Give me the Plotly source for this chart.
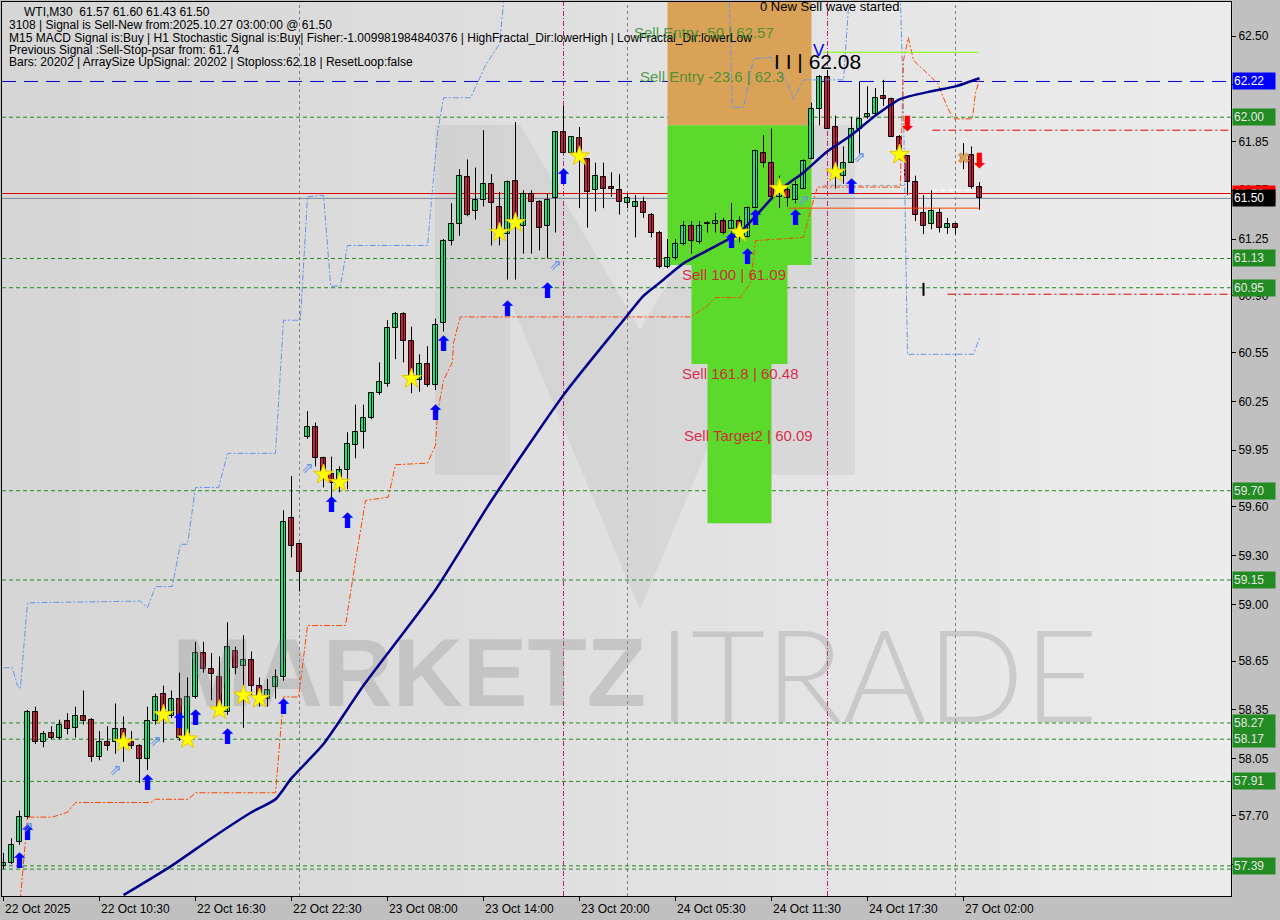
import plotly.graph_objects as go

# ---------------- data ----------------
opens = [57.39,57.41,57.54,57.69,58.34,58.15,58.21,58.18,58.28,58.24,58.31,58.29,58.06,58.15,58.15,58.23,58.15,58.13,58.05,58.28,
         58.45,58.31,58.42,58.18,58.43,58.70,58.60,58.55,58.34,58.71,58.62,58.66,58.50,58.42,58.49,58.55,59.53,59.37,60.03,60.09,
         59.90,59.80,59.75,59.83,59.98,60.06,60.15,60.30,60.36,60.70,60.79,60.62,60.38,60.48,60.35,60.73,61.24,61.34,61.63,61.42,
         61.49,61.59,61.45,61.28,61.61,61.33,61.53,61.48,61.33,61.50,61.91,61.78,61.87,61.74,61.55,61.63,61.57,61.55,61.47,61.45,
         61.48,61.40,61.29,61.08,61.13,61.22,61.33,61.23,61.34,61.34,61.36,61.31,61.36,61.26,61.44,61.78,61.72,61.51,61.55,61.49,
         61.56,61.74,62.05,62.25,61.94,61.64,61.72,61.93,62.00,62.02,62.13,62.11,61.88,61.76,61.60,61.41,61.34,61.41,61.32,61.34,
         61.74,61.77,61.57]
highs = [57.47,57.56,57.73,58.35,58.37,58.22,58.25,58.29,58.33,58.37,58.47,58.30,58.22,58.25,58.39,58.31,58.22,58.14,58.37,58.45,
         58.50,58.47,58.58,58.55,58.77,58.77,58.70,58.68,58.89,58.74,58.81,58.71,58.55,58.54,58.60,59.58,59.79,59.38,60.19,60.12,
         59.91,59.91,59.85,60.06,60.23,60.23,60.30,60.49,60.75,60.80,60.80,60.71,60.54,60.59,60.76,61.25,61.47,61.68,61.74,61.69,
         61.92,61.65,61.54,61.61,61.97,61.55,61.55,61.49,61.53,61.91,62.07,61.88,61.94,61.75,61.72,61.72,61.66,61.65,61.53,61.52,
         61.51,61.41,61.30,61.25,61.25,61.36,61.36,61.36,61.36,61.41,61.38,61.47,61.39,61.45,61.80,61.89,61.93,61.64,61.58,61.61,
         61.74,62.09,62.26,62.29,62.01,61.82,62.00,62.22,62.19,62.18,62.23,62.12,61.89,61.76,61.64,61.52,61.55,61.44,61.38,61.35,
         61.84,61.82,61.60]
lows = [57.37,57.40,57.52,57.68,58.14,58.12,58.17,58.17,58.20,58.18,58.26,58.03,58.04,58.10,58.08,58.03,58.11,57.90,57.98,58.26,
        58.15,58.30,58.16,58.15,58.42,58.58,58.41,58.33,58.32,58.57,58.24,58.44,58.37,58.37,58.42,58.53,59.29,59.08,60.02,59.85,
        59.72,59.66,59.69,59.71,59.90,59.96,60.14,60.29,60.34,60.51,60.49,60.30,60.31,60.34,60.32,60.68,61.21,61.27,61.39,61.37,
        61.45,61.21,61.21,61.00,61.00,61.16,61.16,61.18,61.13,61.29,61.78,61.77,61.44,61.32,61.42,61.44,61.51,61.40,61.44,61.26,
        61.38,61.26,61.07,61.07,61.12,61.21,61.16,61.22,61.29,61.29,61.28,61.29,61.23,61.26,61.44,61.69,61.50,61.44,61.45,61.47,
        61.56,61.74,61.95,61.93,61.56,61.59,61.72,61.77,61.99,62.01,62.07,61.88,61.74,61.52,61.36,61.28,61.31,61.29,61.28,61.28,
        61.68,61.56,61.43]
closes = [57.41,57.52,57.69,58.34,58.15,58.20,58.18,58.26,58.23,58.31,58.28,58.06,58.15,58.13,58.23,58.17,58.13,58.05,58.28,58.43,
          58.32,58.42,58.18,58.43,58.70,58.60,58.57,58.36,58.74,58.61,58.66,58.50,58.43,58.47,58.55,59.51,59.36,59.20,60.09,59.90,
          59.80,59.75,59.83,59.99,60.06,60.15,60.30,60.37,60.70,60.79,60.62,60.39,60.48,60.35,60.72,61.24,61.34,61.64,61.40,61.49,
          61.59,61.47,61.29,61.60,61.33,61.53,61.48,61.32,61.49,61.91,61.78,61.88,61.74,61.54,61.64,61.56,61.56,61.48,61.50,61.48,
          61.41,61.29,61.08,61.13,61.22,61.33,61.24,61.33,61.34,61.36,61.29,61.36,61.32,61.44,61.79,61.72,61.51,61.54,61.50,61.58,
          61.73,62.05,62.25,61.93,61.64,61.72,61.93,61.99,62.02,62.12,62.11,61.88,61.80,61.60,61.40,61.33,61.42,61.32,61.34,61.32,
          61.76,61.57,61.50]

x_tick_idx = [0, 12, 24, 36, 48, 60, 72, 84, 96, 108, 120]
x_tick_labels = ["22 Oct 2025", "22 Oct 10:30", "22 Oct 16:30", "22 Oct 22:30", "23 Oct 08:00",
                 "23 Oct 14:00", "23 Oct 20:00", "24 Oct 05:30", "24 Oct 11:30", "24 Oct 17:30", "27 Oct 02:00"]
y_tick_vals = [62.50, 62.20, 61.85, 61.55, 61.25, 60.90, 60.55, 60.25, 59.95, 59.60, 59.30, 59.00,
               58.65, 58.35, 58.05, 57.70, 57.40]

# moving average (readings)
ma_idx = [15, 21, 26, 31, 34, 36, 40, 45, 54, 61, 70, 77, 80, 82, 85, 88, 92, 97, 100, 103, 106, 109, 112, 116, 119, 122]
ma_val = [57.21, 57.39, 57.56, 57.72, 57.80, 57.93, 58.14, 58.50, 59.09, 59.64, 60.29, 60.72, 60.90, 60.98, 61.10,
          61.18, 61.29, 61.55, 61.66, 61.79, 61.89, 62.01, 62.11, 62.16, 62.19, 62.24]

# upper band (light blue dash-dot)
up_band_idx = [0, 1.1, 1.75, 2.1, 3, 17.1, 18, 19, 21.1, 22.1, 23, 24, 26.9, 28, 34, 34.6, 35, 37.1, 38, 40, 40.9, 42.1,
               43, 53, 54.25, 55, 58.4, 60.25, 62, 63, 90.6, 91.1, 92.5, 93.75, 95.9, 98, 98.75, 100, 105, 106, 112,
               112.5, 113, 121.25, 122]
up_band_val = [58.61, 58.61, 58.50, 58.48, 59.01, 59.02, 58.98, 59.11, 59.11, 59.37, 59.37, 59.72, 59.72, 59.93, 59.93,
               60.38, 60.75, 60.75, 61.51, 61.52, 60.96, 60.96, 61.21, 61.21, 61.90, 62.12, 62.12, 62.32, 62.45, 62.95,
               62.95, 62.06, 62.06, 62.36, 62.37, 62.21, 62.11, 62.23, 62.23, 62.95, 62.95, 62.05, 60.54, 60.54, 60.64]

# lower band (orange-red dash-dot)
lo_band_idx = [2.1, 2.6, 3, 6.1, 8, 9, 18.4, 19, 23.1, 24, 34, 35, 36.9, 38, 42.75, 44, 45.25, 48.1, 49, 53, 54,
               54.25, 55, 56.1, 56.25, 57.1, 85.9, 88, 89, 92.1, 93.4, 94, 100, 100.9, 101.75, 112.1, 112.5, 113.1,
               113.75, 116.75, 118, 118.75, 121.1, 121.5, 122]
lo_band_val = [57.18, 57.49, 57.69, 57.69, 57.72, 57.78, 57.78, 57.80, 57.80, 57.84, 57.84, 58.43, 58.43, 58.87, 58.87,
               59.27, 59.64, 59.66, 59.86, 59.87, 59.98, 60.18, 60.38, 60.49, 60.61, 60.77, 60.77, 60.84, 60.89, 60.89,
               60.98, 61.24, 61.26, 61.43, 61.57, 61.57, 62.35, 62.49, 62.35, 62.21, 62.06, 61.99, 61.99, 62.15, 62.23]

# signal markers
buy_arrow_idx = [2, 3, 18, 22, 24, 28, 35, 41, 43, 54, 55, 63, 68, 70, 91, 93, 94, 99, 106]
buy_arrow_val = [57.41, 57.58, 57.89, 58.27, 58.29, 58.17, 58.36, 59.60, 59.50, 60.17, 60.59, 60.81, 60.92, 61.62,
                 61.23, 61.13, 61.37, 61.37, 61.56]
hollow_arrow_idx = [3, 14, 19, 38, 69, 100, 107]
hollow_arrow_val = [57.62, 57.97, 58.15, 59.83, 61.08, 61.48, 61.75]
star_idx = [15, 20, 23, 27, 30, 32, 40, 42, 51, 62, 64, 72, 92, 97, 104, 112]
star_val = [58.15, 58.32, 58.17, 58.35, 58.44, 58.42, 59.80, 59.75, 60.39, 61.29, 61.35, 61.76, 61.29, 61.56, 61.66, 61.77]
sell_arrow_idx = [113, 122]
sell_arrow_val = [61.95, 61.72]
cross_idx = [120]
cross_val = [61.75]

# levels
green_levels = [62.00, 61.13, 60.95, 59.70, 59.15, 58.27, 58.17, 57.91, 57.39]
green_extra_levels = [57.37]
ma_level = 62.22
red_level = 61.53
bid_level = 61.50

# fibo zones
zone_x0 = [83, 83, 86, 88]
zone_x1 = [101, 101, 98, 96]
zone_top = [62.85, 61.95, 61.09, 60.48]
zone_bottom = [61.95, 61.09, 60.48, 59.50]
zone_colors = ["#D9A256", "#5BDA2C", "#5BDA2C", "#5BDA2C"]

zone_texts = ["Sell Entry -50 | 62.57", "Sell Entry -23.6 | 62.3", "Sell 100 | 61.09", "Sell 161.8 | 60.48",
              "Sell Target2 | 60.09"]
zone_text_idx = [78.6, 79.25, 84.6, 84.6, 84.75]
zone_text_val = [62.52, 62.25, 61.03, 60.42, 60.04]

header_lines = ["WTI,M30  61.57 61.60 61.43 61.50",
                "3108 | Signal is Sell-New from:2025.10.27 03:00:00 @ 61.50",
                "M15 MACD Signal is:Buy | H1 Stochastic Signal is:Buy| Fisher:-1.009981984840376 | HighFractal_Dir:lowerHigh | LowFractal_Dir:lowerLow",
                "Previous Signal :Sell-Stop-psar from: 61.74",
                "Bars: 20202 | ArraySize UpSignal: 20202 | Stoploss:62.18 | ResetLoop:false"]

# other drawn objects (price / bar index)
sep_idx = [37, 78, 119]
mag_idx = [70, 103]
lime_line = (102.4, 121.9, 62.40)
orange_line = (98.1, 122, 61.44)
red_dd_lines = [(116.1, 61.92), (118, 60.91)]

# ---------------- figure ----------------
X_RANGE = [-0.1875, 153.4375]
Y_RANGE = [57.2044, 62.7094]
L, R, T, B = 2, 49, 2, 24
W, H = 1280, 920
PW, PH = W - L - R, H - T - B


def pxp(px):
    return (px - L) / PW


def pyp(py):
    return (H - B - py) / PH


def fx(f):
    return X_RANGE[0] + f * (X_RANGE[1] - X_RANGE[0])


def fy(f):
    return Y_RANGE[0] + f * (Y_RANGE[1] - Y_RANGE[0])


fig = go.Figure()

# watermark text (first traces, under everything else)
fig.add_trace(go.Scatter(x=[fx(pxp(409))], y=[fy(pyp(682))], mode="text", text=["MARKETZ"],
                         textfont=dict(family="Liberation Sans Narrow, Liberation Sans", size=97,
                                       color="rgba(150,150,150,0.35)", weight="bold"),
                         hoverinfo="skip"))
fig.add_trace(go.Scatter(x=[fx(pxp(878))], y=[fy(pyp(690))], mode="text", text=["ITRADE"],
                         textfont=dict(family="Lato, Liberation Sans", size=128,
                                       color="rgba(150,150,150,0.35)", weight=300),
                         hoverinfo="skip"))

n = len(opens)
idx = list(range(n))

# wicks
wx, wy = [], []
for i in idx:
    wx += [i, i, None]
    wy += [lows[i], highs[i], None]
fig.add_trace(go.Scatter(x=wx, y=wy, mode="lines", line=dict(color="black", width=1), hoverinfo="skip"))

# bodies
MINH = 0.006
up_i = [i for i in idx if closes[i] >= opens[i]]
dn_i = [i for i in idx if closes[i] < opens[i]]
fig.add_trace(go.Bar(x=up_i, base=[opens[i] for i in up_i],
                     y=[max(closes[i] - opens[i], MINH) for i in up_i], width=0.68,
                     marker=dict(color="#00F07A", line=dict(color="black", width=1))))
fig.add_trace(go.Bar(x=dn_i, base=[closes[i] for i in dn_i],
                     y=[max(opens[i] - closes[i], MINH) for i in dn_i], width=0.68,
                     marker=dict(color="#E0143C", line=dict(color="black", width=1))))

# bands
fig.add_trace(go.Scatter(x=up_band_idx, y=up_band_val, mode="lines",
                         line=dict(color="#6495ED", width=1, dash="6px,2px,2px,2px")))
fig.add_trace(go.Scatter(x=lo_band_idx, y=lo_band_val, mode="lines",
                         line=dict(color="#FF4500", width=1, dash="6px,2px,2px,2px")))
# MA
fig.add_trace(go.Scatter(x=ma_idx, y=ma_val, mode="lines", line=dict(color="#00008B", width=2.5, shape="spline",
                                                                     smoothing=0.6)))

# markers
fig.add_trace(go.Scatter(x=star_idx, y=star_val, mode="markers",
                         marker=dict(symbol="star", size=15, color="#FFFF00", line=dict(color="#E6C800", width=1))))
fig.add_trace(go.Scatter(x=buy_arrow_idx, y=buy_arrow_val, mode="text", text=["⬆"] * len(buy_arrow_idx),
                         textfont=dict(family="DejaVu Sans", size=21, color="#0000FF", weight="bold")))
fig.add_trace(go.Scatter(x=hollow_arrow_idx, y=hollow_arrow_val, mode="text", text=["⇗"] * len(hollow_arrow_idx),
                         textfont=dict(family="DejaVu Sans", size=15, color="#6495ED")))
fig.add_trace(go.Scatter(x=sell_arrow_idx, y=sell_arrow_val, mode="text", text=["⬇"] * len(sell_arrow_idx),
                         textfont=dict(family="DejaVu Sans", size=21, color="#FF0000", weight="bold")))
fig.add_trace(go.Scatter(x=cross_idx, y=cross_val, mode="markers",
                         marker=dict(symbol="x", size=10, color="#D9A05B", line=dict(width=0))))

shapes = []
# background gradient strips
NS = 32
for k in range(NS):
    c = int(214 + (236 - 214) * k / (NS - 1))
    shapes.append(dict(type="rect", xref="paper", yref="paper", x0=k / NS, x1=(k + 1) / NS + 0.001, y0=0, y1=1,
                       fillcolor=f"rgb({c},{c},{c})", line=dict(width=0), layer="below"))
# logo (M shape)
logo_pts = [(435, 475), (435, 125), (520, 125), (640, 330), (760, 125), (855, 125), (855, 475), (770, 475),
            (770, 300), (640, 610), (510, 300), (510, 475)]
path = "M " + " L ".join(f"{pxp(a):.4f},{pyp(b):.4f}" for a, b in logo_pts) + " Z"
shapes.append(dict(type="path", xref="paper", yref="paper", path=path, fillcolor="rgba(120,120,120,0.10)",
                   line=dict(width=0), layer="below"))
# zones
for x0, x1, t, b, col in zip(zone_x0, zone_x1, zone_top, zone_bottom, zone_colors):
    shapes.append(dict(type="rect", xref="x", yref="y", x0=x0, x1=x1, y0=b, y1=t, fillcolor=col,
                       line=dict(width=0), layer="below"))
# vertical separators
for s in sep_idx:
    shapes.append(dict(type="line", xref="x", yref="paper", x0=s, x1=s, y0=0, y1=1,
                       line=dict(color="#808080", width=1, dash="3px,3px"), layer="below"))
for s in mag_idx:
    shapes.append(dict(type="line", xref="x", yref="paper", x0=s, x1=s, y0=0, y1=1,
                       line=dict(color="#C71585", width=1, dash="5px,2px,1px,2px"), layer="below"))
# horizontal levels
for lv in green_levels + green_extra_levels:
    shapes.append(dict(type="line", xref="paper", yref="y", x0=0, x1=1, y0=lv, y1=lv,
                       line=dict(color="#228B22", width=1, dash="4px,3px"), layer="below"))
shapes.append(dict(type="line", xref="paper", yref="y", x0=0, x1=1, y0=ma_level, y1=ma_level,
                   line=dict(color="#0000CD", width=1, dash="14px,8px"), layer="below"))
shapes.append(dict(type="line", xref="paper", yref="y", x0=0, x1=1, y0=red_level, y1=red_level,
                   line=dict(color="#E00000", width=1), layer="below"))
shapes.append(dict(type="line", xref="paper", yref="y", x0=0, x1=1, y0=bid_level, y1=bid_level,
                   line=dict(color="#778899", width=1), layer="below"))
shapes.append(dict(type="line", xref="x", yref="y", x0=lime_line[0], x1=lime_line[1], y0=lime_line[2],
                   y1=lime_line[2], line=dict(color="#7CFC00", width=1)))
shapes.append(dict(type="line", xref="x", yref="y", x0=orange_line[0], x1=orange_line[1], y0=orange_line[2],
                   y1=orange_line[2], line=dict(color="#FF4500", width=1)))
for x0, lv in red_dd_lines:
    shapes.append(dict(type="line", xref="x", yref="y", x0=x0, x1=X_RANGE[1], y0=lv, y1=lv,
                       line=dict(color="#E00000", width=1, dash="8px,3px,2px,3px")))
shapes.append(dict(type="line", xref="x", yref="y", x0=115, x1=115, y0=60.90, y1=60.98,
                   line=dict(color="black", width=2)))
shapes.append(dict(type="line", xref="x", yref="y", x0=116.1, x1=120.9, y0=61.55, y1=61.55,
                   line=dict(color="white", width=1, dash="5px,3px")))
shapes.append(dict(type="line", xref="x", yref="y", x0=102.5, x1=112.75, y0=61.58, y1=61.58,
                   line=dict(color="#A0A0A0", width=1, dash="4px,3px"), layer="below"))

ann = []
# header
hdr_y = [12.5, 25, 37.5, 50, 62]
hdr_x = [22, 7, 7, 7, 7]
for t, yy, xx in zip(header_lines, hdr_y, hdr_x):
    ann.append(dict(text=t, xref="paper", yref="paper", x=pxp(xx), y=pyp(yy), xanchor="left", yanchor="middle",
                    showarrow=False, font=dict(family="Liberation Sans", size=12, color="black")))
# zone texts
zone_text_colors = ["rgba(40,140,40,0.8)", "rgba(40,140,40,0.8)", "rgba(220,20,60,0.9)", "rgba(220,20,60,0.9)",
                    "rgba(220,20,60,0.9)"]
for t, xi, yv, col in zip(zone_texts, zone_text_idx, zone_text_val, zone_text_colors):
    ann.append(dict(text=t, xref="x", yref="y", x=xi, y=yv, xanchor="left", yanchor="middle", showarrow=False,
                    font=dict(family="Liberation Sans", size=15, color=col)))
ann.append(dict(text="0 New Sell wave started", xref="x", yref="paper", x=94.25, y=pyp(7), xanchor="left",
                yanchor="middle", showarrow=False, font=dict(family="Liberation Sans", size=13, color="black")))
ann.append(dict(text="I I | 62.08", xref="x", yref="y", x=96.1, y=62.345, xanchor="left", yanchor="middle",
                showarrow=False, font=dict(family="Liberation Sans", size=21, color="black")))
ann.append(dict(text="V", xref="x", yref="y", x=101.9, y=62.41, xanchor="center", yanchor="middle",
                showarrow=False, font=dict(family="Liberation Sans", size=17, color="#0000FF")))
# x labels
for xi, lab in zip(x_tick_idx, x_tick_labels):
    ann.append(dict(text=lab, xref="x", yref="paper", x=xi, y=pyp(909), xanchor="left", yanchor="middle",
                    xshift=-1, showarrow=False, font=dict(family="Liberation Sans", size=12, color="black")))


# right axis boxes
def box(price, text, bg, fg):
    ann.append(dict(text=text, xref="paper", yref="y", x=1, y=price, xanchor="left", yanchor="middle", xshift=1,
                    showarrow=False, bgcolor=bg, borderpad=1, width=40, align="left",
                    font=dict(family="Liberation Sans", size=12, color=fg)))


box(red_level, f"{red_level:.2f}", "#FF0000", "#FFFFFF")
box(bid_level, f"{bid_level:.2f}", "#000000", "#FFFFFF")
box(ma_level, f"{ma_level:.2f}", "#0000FF", "#FFFFFF")
for lv in green_levels:
    box(lv, f"{lv:.2f}", "#228B22", "#E8E8E8")

fig.update_layout(
    width=W, height=H, autosize=False,
    margin=dict(l=L, r=R, t=T, b=B, pad=0),
    paper_bgcolor="#C0C0C0", plot_bgcolor="#DCDCDC",
    showlegend=False, barmode="overlay", bargap=0,
    shapes=shapes, annotations=ann,
    xaxis=dict(range=X_RANGE, tickvals=x_tick_idx, ticks="outside", ticklen=4, tickcolor="black",
               showticklabels=False, showline=True, mirror=True, linecolor="black", linewidth=1,
               showgrid=False, zeroline=False),
    yaxis=dict(range=Y_RANGE, side="right", tickvals=y_tick_vals, ticktext=[f"{v:.2f}" for v in y_tick_vals],
               ticks="outside", ticklen=4, tickcolor="black", showline=True, mirror=True, linecolor="black",
               linewidth=1, showgrid=False, zeroline=False,
               tickfont=dict(family="Liberation Sans", size=12, color="black")),
)

fig.write_html("out.html", config={"displayModeBar": False},
               post_script="document.body.style.margin='0px';document.body.style.overflow='hidden';")
